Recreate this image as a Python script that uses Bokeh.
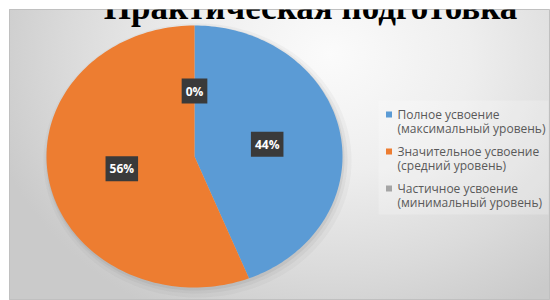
import numpy as np
from bokeh.plotting import figure
from bokeh.models import Range1d, ColumnDataSource, Label
from bokeh.core.properties import value
from bokeh.embed import file_html
from bokeh.resources import INLINE

# ---- data ----
title_text = "Практическая подготовка"
legend_line1 = ["Полное усвоение", "Значительное усвоение", "Частичное усвоение"]
legend_line2 = ["(максимальный уровень)", "(средний уровень)", "(минимальный уровень)"]
shares = [44, 56, 0]
colors = ["#5B9BD5", "#ED7D31", "#A5A5A5"]

# ---- layout constants (page pixels, y measured from the top) ----
W, H = 550, 300
FL, FT = 9, 9
CX, CY, RX, RY = 194, 156, 148, 131
LAB_F = 0.5


def Y(py):
    # page y (from top) -> data y (upwards)
    return H - py


p = figure(width=W, height=H, x_range=Range1d(FL, W), y_range=Range1d(0, H - FT),
           output_backend="svg", toolbar_location=None,
           x_axis_location=None, y_axis_location=None,
           min_border_left=FL, min_border_top=FT, min_border_right=0, min_border_bottom=0)
p.grid.visible = False
p.background_fill_color = None
p.border_fill_color = None
p.outline_line_color = "#c0c0c0"
p.styles = {"background": (
    "linear-gradient(to bottom, #ffffff 0px, #ffffff 9px, transparent 9px),"
    "linear-gradient(to right, #ffffff 0px, #ffffff 9px, transparent 9px),"
    "radial-gradient(ellipse 64% 98% at 60% 18%, #fbfbfb 0%, #eeeeee 40%, #dadada 75%, #cacaca 100%)")}

total = float(sum(shares))
cum = np.concatenate([[0.0], np.cumsum(shares)]) / total
starts = np.pi / 2 - 2 * np.pi * cum[:-1]
ends = np.pi / 2 - 2 * np.pi * cum[1:]

# soft shadow of the pie
t_full = np.linspace(0, 2 * np.pi, 200)
for off, grow, alpha in [(3, 6, 0.06), (2, 3, 0.08), (1, 1, 0.12)]:
    p.patch(CX + off + (RX + grow) * np.cos(t_full), Y(CY + off + 1) + (RY + grow) * np.sin(t_full),
            fill_color="#707070", fill_alpha=alpha, line_color=None)

xs, ys, cs = [], [], []
for s, e, v, c in zip(starts, ends, shares, colors):
    if v <= 0:
        continue
    t = np.linspace(s, e, 120)
    xs.append(np.concatenate([[CX], CX + RX * np.cos(t)]))
    ys.append(np.concatenate([[Y(CY)], Y(CY) + RY * np.sin(t)]))
    cs.append(c)
p.patches(xs="xs", ys="ys", fill_color="cs", line_color=None,
          source=ColumnDataSource(dict(xs=xs, ys=ys, cs=cs)))

# data labels
mids = (starts + ends) / 2
for m, v in zip(mids, shares):
    lx = CX + LAB_F * RX * np.cos(m)
    ly = Y(CY) + LAB_F * RY * np.sin(m)
    p.add_layout(Label(x=lx + 1.5, y=ly - 1.5, text=f"{v}%", text_align="center", text_baseline="middle",
                       text_font="Open Sans", text_font_size="12px", text_font_style="bold",
                       text_color="#808080", text_alpha=0.0,
                       background_fill_color="#555555", background_fill_alpha=0.3, padding=4))
    p.add_layout(Label(x=lx, y=ly, text=f"{v}%", text_align="center", text_baseline="middle",
                       text_font="Open Sans", text_font_size="12px", text_font_style="bold",
                       text_color="white", background_fill_color="#3a3a3a", padding=4))

# legend
LEG_X, LEG_Y0, LEG_STEP, LEG_LINE = 397, 114, 37, 14
p.quad(left=378, right=548, top=Y(100), bottom=Y(214), fill_color="white", fill_alpha=0.22, line_color=None)
n = len(legend_line1)
y1 = [Y(LEG_Y0 + LEG_STEP * i) for i in range(n)]
y2 = [y - LEG_LINE for y in y1]
p.scatter(x=[LEG_X - 8.5] * n, y=y1, marker="square", size=6, fill_color=colors, line_color=None)
p.text(x=[LEG_X] * (2 * n), y=y1 + y2, text=legend_line1 + legend_line2,
       text_font=value("Open Sans"), text_font_size="12px", text_color="#595959",
       text_baseline="middle", text_align="left")

# title (cut off at the top, as in the reference)
p.add_layout(Label(x=310, y=Y(7), text=title_text, text_align="center", text_baseline="alphabetic",
                   text_font="Liberation Serif", text_font_size="35px",
                   text_font_style="bold", text_color="#000000"))

open("out.html", "w").write(file_html(p, INLINE))
